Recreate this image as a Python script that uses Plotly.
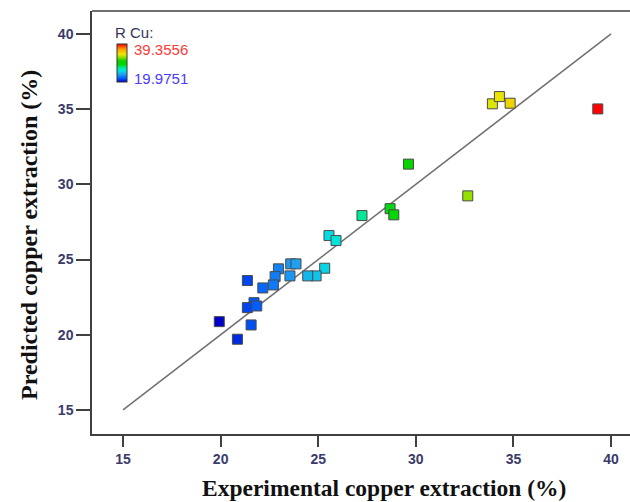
import plotly.graph_objects as go

# Experimental (actual) vs predicted copper extraction (%)
experimental = [39.32, 33.92, 34.28, 34.83, 29.62, 32.66, 28.68, 28.87, 27.24,
                25.55, 25.91, 25.33, 24.89, 24.46, 23.59, 23.86, 22.96, 23.55,
                22.79, 22.70, 22.16, 21.37, 21.71, 21.37, 21.85, 19.93, 21.56, 20.86]
predicted = [35.01, 35.35, 35.83, 35.39, 31.34, 29.23, 28.38, 27.97, 27.92,
             26.59, 26.26, 24.42, 23.91, 23.91, 24.71, 24.71, 24.38, 23.91,
             23.86, 23.31, 23.11, 23.60, 22.13, 21.80, 21.91, 20.87, 20.65, 19.70]
line_ends = [15, 40]
cmin_val, cmax_val = 19.9751, 39.3556
tick_vals = [15, 20, 25, 30, 35, 40]

colorscale = [
    [0.0, "#0000c8"], [0.1, "#0060ff"], [0.2, "#20a0f0"], [0.3, "#00e4e0"],
    [0.38, "#00e890"], [0.46, "#00d800"], [0.56, "#10d000"], [0.65, "#90e000"],
    [0.73, "#e8e800"], [0.86, "#ffa000"], [1.0, "#ff0000"],
]

L, R, T, B = 92, 0, 11, 68
W, H = 630, 502
pw, ph = W - L - R, H - T - B

fig = go.Figure()
fig.add_trace(go.Scatter(
    x=line_ends, y=line_ends, mode="lines",
    line=dict(color="#707070", width=1.5), hoverinfo="skip", showlegend=False))
fig.add_trace(go.Scatter(
    x=experimental, y=predicted, mode="markers", showlegend=False,
    marker=dict(symbol="square", size=10, color=experimental,
                colorscale=colorscale, cmin=cmin_val, cmax=cmax_val,
                line=dict(color="#4a4a4a", width=1),
                showscale=True,
                colorbar=dict(thickness=10, thicknessmode="pixels",
                              len=38, lenmode="pixels",
                              x=(117 - L) / pw, xanchor="left",
                              y=(H - B - 63.5) / ph, yanchor="middle",
                              xpad=0, ypad=0, outlinewidth=1, outlinecolor="#333333",
                              showticklabels=False, ticks=""))))

tickfont = dict(family="Arial, Liberation Sans", size=14, color="#3b3b6b", weight="bold")
fig.update_xaxes(range=[13.41, 40.97], tickvals=tick_vals, ticks="outside", ticklen=11,
                 tickcolor="#404040", tickwidth=1.5, showline=True, linecolor="#404040",
                 linewidth=1.5, showgrid=False, zeroline=False, tickfont=tickfont)
fig.update_yaxes(range=[13.40, 41.52], tickvals=tick_vals, ticks="outside", ticklen=14,
                 tickcolor="#404040", tickwidth=1.5, showline=True, linecolor="#404040",
                 linewidth=1.5, showgrid=False, zeroline=False, tickfont=tickfont)

fig.add_shape(type="line", xref="paper", yref="paper", x0=0, x1=1, y0=1, y1=1,
              line=dict(color="#404040", width=1.5))

def px_x(p):
    return (p - L) / pw

def px_y(p):
    return (H - B - p) / ph

serif = "Liberation Serif, Times New Roman, serif"
fig.add_annotation(text="<b>Experimental copper extraction (%)</b>", xref="paper", yref="paper",
                   x=px_x(384), y=px_y(488), showarrow=False,
                   font=dict(family=serif, size=23.5, color="#111111"),
                   xanchor="center", yanchor="middle")
fig.add_annotation(text="<b>Predicted copper extraction (%)</b>", xref="paper", yref="paper",
                   x=px_x(29), y=px_y(235), showarrow=False, textangle=-90,
                   font=dict(family=serif, size=24, color="#111111"),
                   xanchor="center", yanchor="middle")
fig.add_annotation(text="R Cu:", xref="paper", yref="paper", x=px_x(113), y=px_y(33),
                   showarrow=False, xanchor="left", yanchor="middle",
                   font=dict(family="Arial, Liberation Sans", size=15, color="#33335a"))
fig.add_annotation(text=f"{cmax_val:.4f}", xref="paper", yref="paper", x=px_x(132), y=px_y(49),
                   showarrow=False, xanchor="left", yanchor="middle",
                   font=dict(family="Arial, Liberation Sans", size=15, color="#ff3838"))
fig.add_annotation(text=f"{cmin_val:.4f}", xref="paper", yref="paper", x=px_x(132), y=px_y(78),
                   showarrow=False, xanchor="left", yanchor="middle",
                   font=dict(family="Arial, Liberation Sans", size=15, color="#4a3cff"))

fig.update_layout(width=W, height=H, margin=dict(l=L, r=R, t=T, b=B),
                  paper_bgcolor="white", plot_bgcolor="white")
fig.write_html("out.html")
